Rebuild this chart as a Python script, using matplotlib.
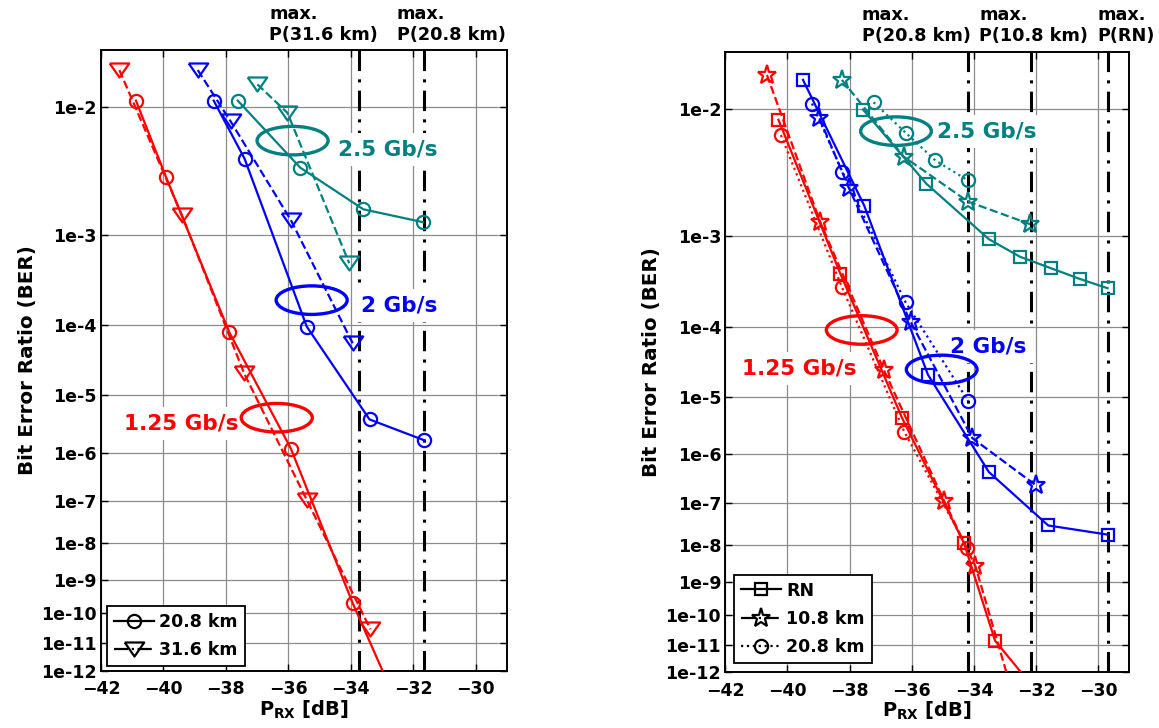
import numpy as np
import matplotlib
matplotlib.use("Agg")
import matplotlib.pyplot as plt
from matplotlib.patches import Ellipse
from matplotlib.lines import Line2D

# ── datos: potencia recibida [dB] y BER ─────────────────────────────────────
# panel izquierdo (20.8 km y 31.6 km)
p_red_208 = [-40.88, -39.92, -37.89, -35.92, -33.94, -32.3]
ber_red_208 = [1.1e-2, 3.2e-3, 8.1e-5, 1.2e-6, 2.1e-10, 1e-14]
p_red_316 = [-41.41, -39.41, -37.42, -35.41, -33.37]
ber_red_316 = [1.67e-2, 1.52e-3, 2.2e-5, 1.07e-7, 3.0e-11]
p_blue_208 = [-38.39, -37.40, -35.41, -33.40, -31.64]
ber_blue_208 = [1.1e-2, 4.4e-3, 9.6e-5, 4.0e-6, 1.7e-6]
p_blue_316 = [-38.90, -37.85, -35.92, -33.94]
ber_blue_316 = [1.67e-2, 8.1e-3, 1.37e-3, 5.8e-5]
p_teal_208 = [-37.62, -35.62, -33.60, -31.69]
ber_teal_208 = [1.1e-2, 3.77e-3, 1.71e-3, 1.31e-3]
p_teal_316 = [-36.99, -36.03, -34.05]
ber_teal_316 = [1.38e-2, 9.2e-3, 5.2e-4]
vmax_left = [-33.75, -31.65]
vmax_left_lab = ["max.\nP(31.6 km)", "max.\nP(20.8 km)"]

# panel derecho (RN, 10.8 km, 20.8 km)
p_red_rn = [-40.29, -38.30, -36.31, -34.32, -33.32, -31.2]
ber_red_rn = [8.5e-3, 4.2e-4, 4.5e-6, 1.1e-8, 1.4e-11, 1e-14]
p_red_108 = [-40.66, -38.95, -36.90, -34.95, -33.95, -32.5]
ber_red_108 = [1.6e-2, 1.37e-3, 2.6e-5, 1.07e-7, 2.7e-9, 1e-14]
p_red_208r = [-40.21, -38.25, -36.24, -34.21]
ber_red_208r = [6.7e-3, 3.0e-4, 2.6e-6, 8.2e-9]
p_blue_rn = [-39.50, -37.53, -35.48, -33.52, -31.61, -29.70]
ber_blue_rn = [1.5e-2, 1.9e-3, 2.2e-5, 4.5e-7, 3.0e-8, 1.8e-8]
p_blue_108 = [-38.97, -38.03, -36.04, -34.05, -32.01]
ber_blue_108 = [8.7e-3, 2.7e-3, 1.16e-4, 2.0e-6, 2.4e-7]
p_blue_208r = [-39.21, -38.23, -36.20, -34.19]
ber_blue_208r = [1.08e-2, 3.6e-3, 2.0e-4, 8.7e-6]
p_teal_rn = [-37.57, -35.53, -33.52, -32.52, -31.53, -30.58, -29.70]
ber_teal_rn = [9.9e-3, 2.9e-3, 9.4e-4, 6.3e-4, 4.8e-4, 3.66e-4, 2.9e-4]
p_teal_108 = [-38.25, -36.26, -34.19, -32.19]
ber_teal_108 = [1.5e-2, 4.7e-3, 2.06e-3, 1.3e-3]
p_teal_208r = [-37.23, -36.18, -35.24, -34.19]
ber_teal_208r = [1.1e-2, 6.9e-3, 4.4e-3, 3.08e-3]
vmax_right = [-34.2, -32.15, -29.7]
vmax_right_lab = ["max.\nP(20.8 km)", "max.\nP(10.8 km)", "max.\nP(RN)"]

ber_ticks = [10.0 ** -k for k in range(2, 13)]
ber_ticklabels = ["1e-%d" % k for k in range(2, 13)]

RED = "#ff0000"
BLUE = "#0000ff"
TEAL = "#008080"
TRI = [(-1, 0.72), (1, 0.72), (0, -0.72), (-1, 0.72)]   # triangulo abajo, ancho
DASHDOT = (0, (6.7, 2.7, 1, 2.7))

plt.rcParams.update({"font.family": "DejaVu Sans", "font.weight": "bold",
                     "axes.labelweight": "bold", "mathtext.default": "bf"})


def fwd(b):
    b = np.clip(np.asarray(b, float), 1e-300, 1 - 1e-12)
    return -np.log10(-np.log10(b))


def inv(v):
    return 10.0 ** (-(10.0 ** (-np.asarray(v, float))))


fig = plt.figure(figsize=(11.59, 7.28), dpi=100)
axL = fig.add_axes([0.0871, 0.0787, 0.3503, 0.8526])
axR = fig.add_axes([0.6258, 0.0765, 0.3486, 0.8525])


def base(ax, vlines, vlabs, labx):
    ax.set_yscale("function", functions=(fwd, inv))
    ax.set_xlim(-42, -29)
    ax.set_ylim(1e-12, 0.0215)
    ax.set_xticks(range(-42, -29, 2))
    ax.set_yticks(ber_ticks)
    ax.set_yticklabels(ber_ticklabels)
    ax.yaxis.set_minor_locator(matplotlib.ticker.NullLocator())
    ax.tick_params(direction="in", top=True, right=True, length=5, width=1,
                   labelsize=12.5)
    ax.tick_params(axis="x", pad=7)
    ax.tick_params(axis="y", pad=3)
    ax.grid(True, color="#8c8c8c", lw=0.9, zorder=0)
    ax.set_axisbelow(True)
    for sp in ax.spines.values():
        sp.set_linewidth(1.4)
    ax.set_xlabel(r"P$_{\mathbf{RX}}$ [dB]", fontsize=14, labelpad=0)
    ax.set_ylabel("Bit Error Ratio (BER)", fontsize=14.3, labelpad=3)
    for xv, lab, lx in zip(vlines, vlabs, labx):
        ax.axvline(xv, color="black", lw=2.2, ls=DASHDOT, zorder=1.5)
        ax.text(lx, 1.01, lab, transform=ax.transAxes, ha="left", va="bottom",
                fontsize=12.7, linespacing=1.22)


def curva(ax, x, y, color, ls, marker, ms):
    ax.plot(x, y, color=color, ls=ls, lw=1.6, marker=marker, ms=ms, mew=1.6,
            mfc="none", mec=color, zorder=3)


def grupo(ax, cx, cy, color, lab, tx, ty, ha):
    ax.add_patch(Ellipse((cx, cy), 0.175, 0.046, transform=ax.transAxes, fill=False,
                         edgecolor=color, lw=2.4, zorder=4))
    ax.text(tx, ty, lab, transform=ax.transAxes, color=color, fontsize=15.5, ha=ha,
            va="center", zorder=2.5,
            bbox=dict(boxstyle="square,pad=0.3", fc="white", ec="none"))


# ── panel izquierdo ─────────────────────────────────────────────────────────
base(axL, vmax_left, vmax_left_lab, [0.4145, 0.728])
curva(axL, p_red_208, ber_red_208, RED, "-", "o", 9.5)
curva(axL, p_red_316, ber_red_316, RED, "--", TRI, 14)
curva(axL, p_blue_208, ber_blue_208, BLUE, "-", "o", 9.5)
curva(axL, p_blue_316, ber_blue_316, BLUE, "--", TRI, 14)
curva(axL, p_teal_208, ber_teal_208, TEAL, "-", "o", 9.5)
curva(axL, p_teal_316, ber_teal_316, TEAL, "--", TRI, 14)
grupo(axL, 0.472, 0.854, TEAL, "2.5 Gb/s", 0.585, 0.840, "left")
grupo(axL, 0.519, 0.597, BLUE, "2 Gb/s", 0.640, 0.589, "left")
grupo(axL, 0.433, 0.4076, RED, "1.25 Gb/s", 0.338, 0.3986, "right")

hL = [Line2D([0], [0], color="black", lw=1.6, ls="-", marker="o", ms=9.5, mew=1.6,
             mfc="none", label="20.8 km"),
      Line2D([0], [0], color="black", lw=1.6, ls="-.", marker=TRI, ms=14, mew=1.6,
             mfc="none", label="31.6 km")]
legL = axL.legend(handles=hL, loc="lower left", bbox_to_anchor=(0.0155, 0.0076),
                  borderaxespad=0, fontsize=12.5, fancybox=False, edgecolor="black",
                  framealpha=1, handlelength=2.3, labelspacing=0.6, handletextpad=0.3,
                  borderpad=0.4)
legL.get_frame().set_linewidth(1.3)

# ── panel derecho ───────────────────────────────────────────────────────────
base(axR, vmax_right, vmax_right_lab, [0.3376, 0.629, 0.921])
curva(axR, p_red_rn, ber_red_rn, RED, "-", "s", 9)
curva(axR, p_red_108, ber_red_108, RED, "--", "*", 14)
curva(axR, p_red_208r, ber_red_208r, RED, ":", "o", 9.5)
curva(axR, p_blue_rn, ber_blue_rn, BLUE, "-", "s", 9)
curva(axR, p_blue_108, ber_blue_108, BLUE, "--", "*", 14)
curva(axR, p_blue_208r, ber_blue_208r, BLUE, ":", "o", 9.5)
curva(axR, p_teal_rn, ber_teal_rn, TEAL, "-", "s", 9)
curva(axR, p_teal_108, ber_teal_108, TEAL, "--", "*", 14)
curva(axR, p_teal_208r, ber_teal_208r, TEAL, ":", "o", 9.5)
grupo(axR, 0.4225, 0.872, TEAL, "2.5 Gb/s", 0.523, 0.871, "left")
grupo(axR, 0.5356, 0.488, BLUE, "2 Gb/s", 0.556, 0.5247, "left")
grupo(axR, 0.3376, 0.5516, RED, "1.25 Gb/s", 0.325, 0.49, "right")

hR = [Line2D([0], [0], color="black", lw=1.6, ls="-", marker="s", ms=9, mew=1.6,
             mfc="none", label="RN"),
      Line2D([0], [0], color="black", lw=1.6, ls="-.", marker="*", ms=14, mew=1.6,
             mfc="none", label="10.8 km"),
      Line2D([0], [0], color="black", lw=1.6, ls=":", marker="o", ms=9.5, mew=1.6,
             mfc="none", label="20.8 km")]
legR = axR.legend(handles=hR, loc="lower left", bbox_to_anchor=(0.0223, 0.0145),
                  borderaxespad=0, fontsize=12.5, fancybox=False, edgecolor="black",
                  framealpha=1, handlelength=2.3, labelspacing=0.6, handletextpad=0.3,
                  borderpad=0.4)
legR.get_frame().set_linewidth(1.3)

fig.savefig("out.png", dpi=100, facecolor="white")
